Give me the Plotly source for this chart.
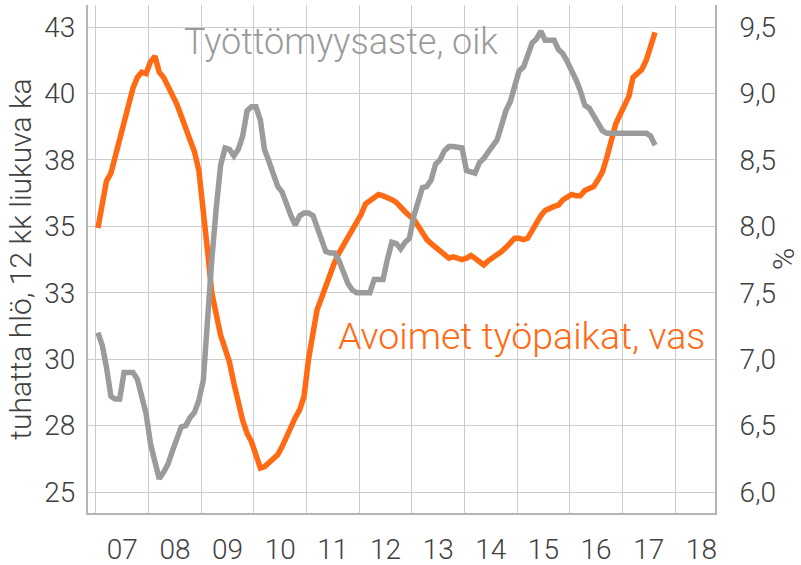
import pandas as pd
import plotly.graph_objects as go

# Monthly data, Jan 2007 – Aug 2017
start_month = "2007-01-01"

avoimet_tyopaikat = [  # thousand persons, 12-month moving average (left axis)
    34.94, 35.9, 36.7, 37.0, 37.6, 38.2, 38.85, 39.6, 40.2, 40.6, 40.8, 40.75,
    41.2, 41.4, 40.8, 40.6, 40.3, 39.9, 39.6, 39.15, 38.7, 38.25, 37.8, 37.1,
    35.7, 34.0, 32.5, 31.6, 30.9, 30.4, 29.9, 29.1, 28.35, 27.7, 27.2, 26.9,
    26.4, 25.9, 25.95, 26.1, 26.25, 26.4, 26.7, 27.1, 27.5, 27.8, 28.1, 28.6,
    30.0, 30.9, 31.85, 32.3, 32.8, 33.3, 33.65, 34.0, 34.3, 34.55, 34.8, 35.1,
    35.45, 35.85, 35.95, 36.05, 36.2, 36.15, 36.1, 36.0, 35.9, 35.7, 35.55, 35.4,
    35.25, 35.0, 34.75, 34.5, 34.35, 34.2, 34.05, 33.95, 33.8, 33.85, 33.8, 33.75,
    33.8, 33.9, 33.8, 33.65, 33.55, 33.7, 33.8, 33.95, 34.05, 34.2, 34.4, 34.55,
    34.55, 34.5, 34.55, 34.85, 35.15, 35.4, 35.6, 35.7, 35.75, 35.8, 36.0, 36.1,
    36.2, 36.15, 36.15, 36.35, 36.4, 36.5, 36.75, 37.05, 37.6, 38.25, 38.85, 39.2,
    39.55, 39.9, 40.6, 40.75, 40.9, 41.25, 41.8, 42.3,
]

tyottomyysaste = [  # unemployment rate, % (right axis)
    7.2, 7.1, 6.94, 6.72, 6.7, 6.7, 6.9, 6.9, 6.9, 6.85, 6.7, 6.59,
    6.36, 6.2, 6.1, 6.15, 6.21, 6.31, 6.39, 6.49, 6.5, 6.56, 6.6, 6.69,
    6.84, 7.41, 7.75, 8.14, 8.46, 8.59, 8.58, 8.53, 8.58, 8.68, 8.87, 8.9,
    8.9, 8.8, 8.58, 8.49, 8.4, 8.3, 8.26, 8.16, 8.08, 8.01, 8.08, 8.1,
    8.1, 8.08, 8.0, 7.9, 7.81, 7.8, 7.8, 7.74, 7.65, 7.57, 7.52, 7.5,
    7.5, 7.5, 7.5, 7.6, 7.6, 7.6, 7.75, 7.88, 7.87, 7.83, 7.88, 7.91,
    8.08, 8.2, 8.29, 8.3, 8.35, 8.47, 8.5, 8.57, 8.6, 8.6, 8.6, 8.59,
    8.42, 8.41, 8.4, 8.48, 8.51, 8.56, 8.6, 8.65, 8.76, 8.87, 8.94, 9.06,
    9.17, 9.2, 9.28, 9.38, 9.41, 9.47, 9.4, 9.4, 9.4, 9.33, 9.3, 9.24,
    9.18, 9.1, 9.02, 8.91, 8.89, 8.83, 8.79, 8.72, 8.7, 8.7, 8.7, 8.7,
    8.7, 8.7, 8.7, 8.7, 8.7, 8.7, 8.68, 8.61,
]

left_tickvals = [25, 27.5, 30, 32.5, 35, 37.5, 40, 42.5]
left_ticktext = ["25", "28", "30", "33", "35", "38", "40", "43"]
right_tickvals = [6.0, 6.5, 7.0, 7.5, 8.0, 8.5, 9.0, 9.5]

dates = pd.date_range(start_month, periods=len(avoimet_tyopaikat), freq="MS") + pd.Timedelta(days=14)

ORANGE = "#FF6A13"
GREY = "#9B9B9B"
TEXT = "#404040"
GRID = "#CDCDCD"
AXIS = "#B4B4B4"
FONT = "Roboto"
W = 300

fig = go.Figure()
fig.add_trace(go.Scatter(
    x=dates, y=tyottomyysaste, yaxis="y2", mode="lines",
    line=dict(color=GREY, width=5.5), name="Työttömyysaste, oik",
))
fig.add_trace(go.Scatter(
    x=dates, y=avoimet_tyopaikat, yaxis="y", mode="lines",
    line=dict(color=ORANGE, width=5.5), name="Avoimet työpaikat, vas",
))

fig.update_layout(
    width=801, height=565,
    margin=dict(l=88, r=86, t=5, b=52, autoexpand=False),
    paper_bgcolor="white", plot_bgcolor="white",
    showlegend=False,
    separators=", ",
    font=dict(family=FONT, color=TEXT, size=28, weight=W),
    xaxis=dict(
        type="date",
        range=["2006-11-07", "2018-10-05"],
        tick0="2007-01-01", dtick="M12", tickformat="%y",
        ticklabelmode="period",
        showgrid=True, gridcolor=GRID, gridwidth=1,
        showline=True, linecolor=AXIS, linewidth=2,
        ticks="", ticklabelstandoff=10,
        tickfont=dict(family=FONT, size=28, color=TEXT, weight=W),
        zeroline=False,
    ),
    yaxis=dict(
        range=[24.21, 43.33],
        tickvals=left_tickvals, ticktext=left_ticktext,
        showgrid=True, gridcolor=GRID, gridwidth=1,
        showline=True, linecolor=AXIS, linewidth=2,
        ticks="", ticklabelstandoff=5,
        tickfont=dict(family=FONT, size=28, color=TEXT, weight=W),
        title=dict(text="tuhatta hlö, 12 kk liukuva ka", standoff=4,
                   font=dict(family=FONT, size=30, color=TEXT, weight=W)),
        zeroline=False, automargin=False,
    ),
    yaxis2=dict(
        range=[5.842, 9.666], overlaying="y", side="right",
        tickvals=right_tickvals, tickformat=".1f",
        showgrid=False,
        showline=True, linecolor=AXIS, linewidth=2,
        ticks="", ticklabelstandoff=17,
        tickfont=dict(family=FONT, size=28, color=TEXT, weight=W),
        title=dict(text="%", standoff=6,
                   font=dict(family=FONT, size=30, color=TEXT, weight=W)),
        zeroline=False, automargin=False,
    ),
    annotations=[
        dict(text="Työttömyysaste, oik", xref="paper", yref="paper",
             x=0.404, y=0.927, xanchor="center", yanchor="middle",
             showarrow=False, font=dict(family=FONT, size=36, color=GREY, weight=W)),
        dict(text="Avoimet työpaikat, vas", xref="paper", yref="paper",
             x=0.6906, y=0.348, xanchor="center", yanchor="middle",
             showarrow=False, font=dict(family=FONT, size=37.5, color=ORANGE, weight=W)),
    ],
)

fig.write_html("out.html", config={"displayModeBar": False},
               post_script="document.body.style.margin='0';document.body.style.overflow='hidden';")
